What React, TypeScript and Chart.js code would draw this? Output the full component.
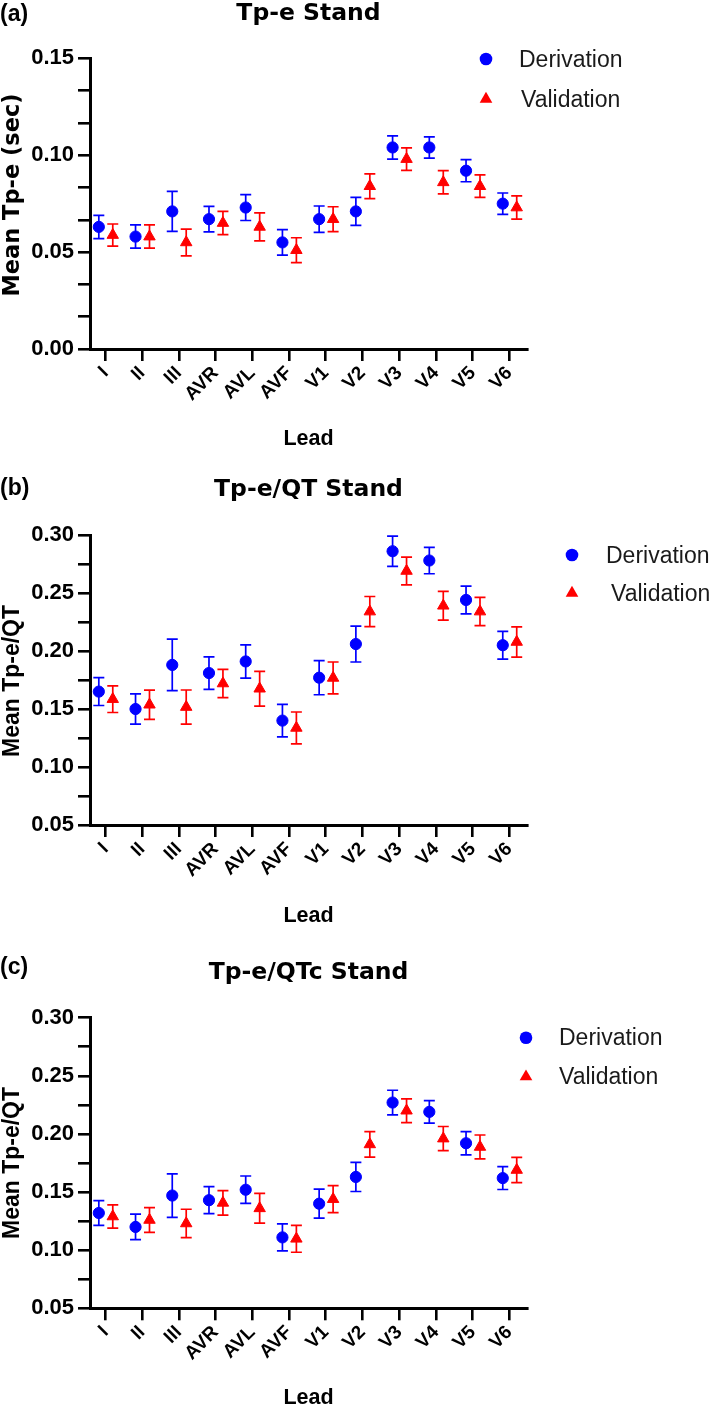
import React, { useEffect, useRef } from 'react';
import { Chart, registerables } from 'chart.js';

Chart.register(...registerables);

// ---------- data ----------
const leads = ['I', 'II', 'III', 'AVR', 'AVL', 'AVF', 'V1', 'V2', 'V3', 'V4', 'V5', 'V6'];
const seriesNames = ['Derivation', 'Validation'];

// (a) Tp-e Stand
const tpeDerivMean = [0.063, 0.058, 0.071, 0.067, 0.073, 0.055, 0.067, 0.071, 0.104, 0.104, 0.092, 0.075];
const tpeDerivErr = [0.006, 0.006, 0.0103, 0.0066, 0.0067, 0.0066, 0.0068, 0.0072, 0.006, 0.0055, 0.0057, 0.0055];
const tpeValidMean = [0.0588, 0.058, 0.055, 0.065, 0.063, 0.051, 0.067, 0.084, 0.098, 0.086, 0.084, 0.073];
const tpeValidErr = [0.0057, 0.006, 0.0069, 0.006, 0.0072, 0.0064, 0.0064, 0.0064, 0.0058, 0.006, 0.0058, 0.006];

// (b) Tp-e/QT Stand
const qtDerivMean = [0.165, 0.15, 0.188, 0.181, 0.191, 0.14, 0.177, 0.206, 0.286, 0.278, 0.244, 0.205];
const qtDerivErr = [0.012, 0.013, 0.0222, 0.014, 0.0143, 0.014, 0.0147, 0.0155, 0.013, 0.0114, 0.012, 0.012];
const qtValidMean = [0.1585, 0.1537, 0.1517, 0.172, 0.1675, 0.1337, 0.1768, 0.234, 0.269, 0.239, 0.234, 0.2078];
const qtValidErr = [0.0115, 0.0126, 0.0147, 0.0122, 0.015, 0.0137, 0.0137, 0.013, 0.012, 0.0124, 0.0122, 0.013];

// (c) Tp-e/QTc Stand
const qtcDerivMean = [0.132, 0.12, 0.147, 0.143, 0.152, 0.111, 0.14, 0.163, 0.227, 0.219, 0.192, 0.162];
const qtcDerivErr = [0.0106, 0.011, 0.0187, 0.0116, 0.0118, 0.0116, 0.0125, 0.0125, 0.0106, 0.0097, 0.01, 0.0098];
const qtcValidMean = [0.129, 0.126, 0.123, 0.1407, 0.136, 0.1098, 0.1439, 0.191, 0.22, 0.196, 0.1888, 0.169];
const qtcValidErr = [0.01, 0.0106, 0.0122, 0.0105, 0.0128, 0.0116, 0.0116, 0.011, 0.0102, 0.0104, 0.0103, 0.0108];

// y-axis tick labels (major) and minor subdivisions
const tpeYMajor = [0, 0.05, 0.1, 0.15];
const tpeYMinorDiv = 3;
const ratioYMajor = [0.05, 0.1, 0.15, 0.2, 0.25, 0.3];
const ratioYMinorDiv = 2;

// ---------- styling ----------
const BLUE = '#0000ff';
const RED = '#ff0000';
const ARIAL = '"Liberation Sans", Arial, Helvetica, sans-serif';
const DEJAVU = '"DejaVu Sans", Verdana, sans-serif';
const W = 709;

function buildTicks(major: number[], div: number) {
  const out: number[] = [];
  for (let i = 0; i < major.length; i++) {
    out.push(major[i]);
    if (i < major.length - 1) {
      const step = (major[i + 1] - major[i]) / div;
      for (let k = 1; k < div; k++) out.push(major[i] + step * k);
    }
  }
  return out;
}

const panelDecor = {
  id: 'panelDecor',
  beforeDatasetsDraw(chart: any) {
    const ctx = chart.ctx;
    const ys = chart.scales.y;
    ctx.save();
    chart.data.datasets.forEach((ds: any, di: number) => {
      const meta = chart.getDatasetMeta(di);
      ctx.strokeStyle = ds.borderColor;
      ctx.lineWidth = 1.7;
      ds.errors.forEach((e: number, j: number) => {
        const pt = meta.data[j];
        const v = ds.data[j].y;
        const yt = ys.getPixelForValue(v + e);
        const yb = ys.getPixelForValue(v - e);
        const x = pt.x;
        ctx.beginPath();
        ctx.moveTo(x, yt);
        ctx.lineTo(x, yb);
        ctx.moveTo(x - 5.5, yt);
        ctx.lineTo(x + 5.5, yt);
        ctx.moveTo(x - 5.5, yb);
        ctx.lineTo(x + 5.5, yb);
        ctx.stroke();
      });
    });
    ctx.restore();
  },
  afterDraw(chart: any, _a: any, o: any) {
    const ctx = chart.ctx;
    const ca = chart.chartArea;
    const cx = (ca.left + ca.right) / 2;
    ctx.save();
    ctx.fillStyle = '#000';
    ctx.textBaseline = 'alphabetic';
    // panel letter
    ctx.font = `bold 23px ${ARIAL}`;
    ctx.textAlign = 'left';
    ctx.fillText(o.letter, 0, o.letterBaseline);
    // title
    ctx.font = `bold 23.5px ${DEJAVU}`;
    ctx.textAlign = 'center';
    ctx.fillText(o.title, cx, o.titleBaseline);
    // y title
    ctx.save();
    ctx.translate(o.yTitleX, o.yTitleY);
    ctx.rotate(-Math.PI / 2);
    ctx.font = o.yTitleFont;
    ctx.textAlign = 'center';
    ctx.fillText(o.yTitle, 0, 0);
    ctx.restore();
    // x title
    ctx.font = `bold 21.5px ${ARIAL}`;
    ctx.textAlign = 'center';
    ctx.fillText('Lead', cx, o.leadBaseline);
    // legend
    chart.data.datasets.forEach((ds: any, i: number) => {
      const mx = o.legendMarkerX;
      const my = o.legendY[i];
      ctx.fillStyle = ds.backgroundColor;
      ctx.beginPath();
      if (ds.pointStyle === 'triangle') {
        const r = 7.3;
        let rad = 0;
        ctx.moveTo(mx + Math.sin(rad) * r, my - Math.cos(rad) * r);
        rad += (2 * Math.PI) / 3;
        ctx.lineTo(mx + Math.sin(rad) * r, my - Math.cos(rad) * r);
        rad += (2 * Math.PI) / 3;
        ctx.lineTo(mx + Math.sin(rad) * r, my - Math.cos(rad) * r);
        ctx.closePath();
      } else {
        ctx.arc(mx, my, 6.3, 0, Math.PI * 2);
      }
      ctx.fill();
      ctx.fillStyle = '#1a1a1a';
      ctx.font = `23px ${ARIAL}`;
      ctx.textAlign = 'left';
      ctx.fillText(ds.label, o.legendTextX[i], my + 7.5);
    });
    ctx.restore();
  },
};

type Panel = {
  height: number;
  top: number;
  xAxisHeight: number;
  yMin: number;
  yMax: number;
  yMajor: number[];
  yDiv: number;
  derivMean: number[];
  derivErr: number[];
  validMean: number[];
  validErr: number[];
  decor: any;
};

const panels: Panel[] = [
  {
    height: 460,
    top: 58.3,
    xAxisHeight: 111,
    yMin: 0,
    yMax: 0.15,
    yMajor: tpeYMajor,
    yDiv: tpeYMinorDiv,
    derivMean: tpeDerivMean,
    derivErr: tpeDerivErr,
    validMean: tpeValidMean,
    validErr: tpeValidErr,
    decor: {
      letter: '(a)',
      letterBaseline: 21,
      title: 'Tp-e Stand',
      titleBaseline: 19.5,
      yTitle: 'Mean Tp-e (sec)',
      yTitleFont: `bold 22.5px ${DEJAVU}`,
      yTitleX: 19,
      yTitleY: 195,
      leadBaseline: 445,
      legendMarkerX: 486,
      legendY: [59, 99],
      legendTextX: [519, 521],
    },
  },
  {
    height: 480,
    top: 75,
    xAxisHeight: 115,
    yMin: 0.05,
    yMax: 0.3,
    yMajor: ratioYMajor,
    yDiv: ratioYMinorDiv,
    derivMean: qtDerivMean,
    derivErr: qtDerivErr,
    validMean: qtValidMean,
    validErr: qtValidErr,
    decor: {
      letter: '(b)',
      letterBaseline: 35,
      title: 'Tp-e/QT Stand',
      titleBaseline: 36,
      yTitle: 'Mean Tp-e/QT',
      yTitleFont: `bold 23px ${ARIAL}`,
      yTitleX: 18.5,
      yTitleY: 221,
      leadBaseline: 461.7,
      legendMarkerX: 572,
      legendY: [95, 133],
      legendTextX: [606, 611],
    },
  },
  {
    height: 465,
    top: 77.7,
    xAxisHeight: 96.7,
    yMin: 0.05,
    yMax: 0.3,
    yMajor: ratioYMajor,
    yDiv: ratioYMinorDiv,
    derivMean: qtcDerivMean,
    derivErr: qtcDerivErr,
    validMean: qtcValidMean,
    validErr: qtcValidErr,
    decor: {
      letter: '(c)',
      letterBaseline: 34,
      title: 'Tp-e/QTc Stand',
      titleBaseline: 39.3,
      yTitle: 'Mean Tp-e/QT',
      yTitleFont: `bold 23px ${ARIAL}`,
      yTitleX: 18.5,
      yTitleY: 223,
      leadBaseline: 464.3,
      legendMarkerX: 526,
      legendY: [97.7, 136.7],
      legendTextX: [559, 559],
    },
  },
];

const DERIV_OFFSET = -0.18;
const VALID_OFFSET = 0.2;

function makeConfig(p: Panel): any {
  const yTicks = buildTicks(p.yMajor, p.yDiv);
  return {
    type: 'scatter',
    data: {
      datasets: [
        {
          label: seriesNames[0],
          data: p.derivMean.map((v, i) => ({ x: i + DERIV_OFFSET, y: v })),
          errors: p.derivErr,
          pointStyle: 'circle',
          pointRadius: 5.6,
          pointHoverRadius: 5.6,
          backgroundColor: BLUE,
          borderColor: BLUE,
          borderWidth: 1,
        },
        {
          label: seriesNames[1],
          data: p.validMean.map((v, i) => ({ x: i + VALID_OFFSET, y: v })),
          errors: p.validErr,
          pointStyle: 'triangle',
          pointRadius: 6.6,
          pointHoverRadius: 6.6,
          backgroundColor: RED,
          borderColor: RED,
          borderWidth: 1,
        },
      ],
    },
    options: {
      responsive: false,
      animation: false,
      events: [],
      layout: { padding: { left: 0, right: W - 527, top: p.top, bottom: 0 } },
      plugins: {
        legend: { display: false },
        tooltip: { enabled: false },
        title: { display: false },
        panelDecor: p.decor,
      },
      scales: {
        x: {
          type: 'linear',
          min: -0.42,
          max: 11.48,
          afterBuildTicks: (s: any) => {
            s.ticks = leads.map((_, i) => ({ value: i }));
          },
          afterFit: (s: any) => {
            s.height = p.xAxisHeight;
          },
          ticks: {
            autoSkip: false,
            minRotation: 45,
            maxRotation: 45,
            padding: 1,
            color: '#000',
            font: { family: ARIAL, size: 19, weight: 'bold' },
            callback: (_v: any, i: number) => leads[i],
          },
          grid: { drawOnChartArea: false, drawTicks: true, tickLength: 12, color: '#000', lineWidth: 2.6 },
          border: { display: true, color: '#000', width: 3 },
        },
        y: {
          type: 'linear',
          min: p.yMin,
          max: p.yMax,
          afterBuildTicks: (s: any) => {
            s.ticks = yTicks.map((v) => ({ value: v }));
          },
          afterFit: (s: any) => {
            s.width = 90;
          },
          ticks: {
            autoSkip: false,
            padding: 4,
            color: '#000',
            font: { family: ARIAL, size: 22, weight: 'bold' },
            callback: (v: number) => {
              const r = v / 0.05;
              return Math.abs(r - Math.round(r)) < 1e-6 ? v.toFixed(2) : '';
            },
          },
          grid: { drawOnChartArea: false, drawTicks: true, tickLength: 12, color: '#000', lineWidth: 2.6 },
          border: { display: true, color: '#000', width: 3 },
        },
      },
    },
    plugins: [panelDecor],
  };
}

export default function App() {
  const refs = [useRef<HTMLCanvasElement>(null), useRef<HTMLCanvasElement>(null), useRef<HTMLCanvasElement>(null)];
  useEffect(() => {
    const charts = panels.map((p, i) => new Chart(refs[i].current as HTMLCanvasElement, makeConfig(p)));
    return () => charts.forEach((c) => c.destroy());
  }, []);
  return (
    <div style={{ position: 'absolute', left: 0, top: 0, width: W, height: 1405, background: '#fff', overflow: 'hidden' }}>
      {panels.map((p, i) => (
        <canvas key={i} ref={refs[i]} width={W} height={p.height} style={{ display: 'block', width: W, height: p.height }} />
      ))}
    </div>
  );
}
